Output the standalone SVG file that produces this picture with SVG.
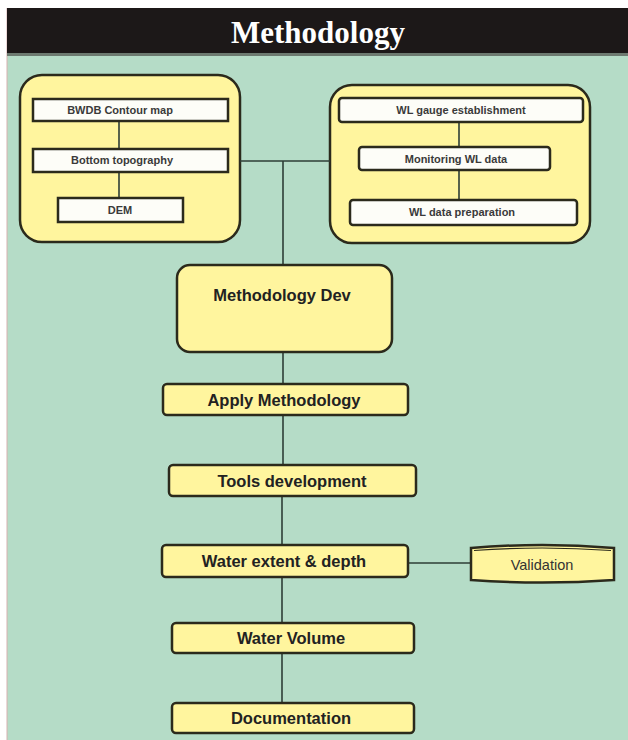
<svg xmlns="http://www.w3.org/2000/svg" width="628" height="740" viewBox="0 0 628 740">
<style>
.grp{fill:#fff59e;stroke:#2b2a1c;stroke-width:2.5}
.inner{fill:#fdfdf8;stroke:#2b2a1c;stroke-width:2.5}
.node{fill:#fff59e;stroke:#2b2a1c;stroke-width:2.5}
.conn{stroke:#2e3e36;stroke-width:1.6;fill:none}
.small{font-family:"Liberation Sans",Arial,sans-serif;font-size:11px;font-weight:bold;fill:#3a3a3a;text-anchor:middle}
.lbl{font-family:"Liberation Sans",Arial,sans-serif;font-size:16.5px;font-weight:bold;fill:#222;text-anchor:middle}
</style>
<rect x="0" y="0" width="628" height="740" fill="#ffffff"/>
<rect x="7" y="56" width="621" height="684" fill="#b5dcc7"/>
<line x1="7" y1="8" x2="7" y2="740" stroke="#d8b0b0" stroke-width="1"/>
<rect x="7" y="8" width="621" height="46" fill="#1c1818"/>
<rect x="7" y="53" width="621" height="3" fill="#6d7a70"/>
<text x="318" y="43" font-family="'Liberation Serif','Times New Roman',serif" font-size="31" font-weight="bold" fill="#ffffff" text-anchor="middle">Methodology</text>

<g id="group-left">
<rect class="grp" x="20" y="75" width="220" height="167" rx="22"/>
</g>
<g id="group-right">
<rect class="grp" x="330" y="85" width="260" height="158" rx="22"/>
</g>

<g id="connectors">
<line class="conn" x1="119" y1="121" x2="119" y2="149"/>
<line class="conn" x1="119" y1="172" x2="119" y2="198"/>
<line class="conn" x1="459" y1="122" x2="459" y2="147"/>
<line class="conn" x1="459" y1="170" x2="459" y2="200"/>
<line class="conn" x1="240" y1="161" x2="330" y2="161"/>
<line class="conn" x1="283" y1="161" x2="283" y2="265"/>
<line class="conn" x1="283" y1="352" x2="283" y2="384"/>
<line class="conn" x1="283" y1="415" x2="283" y2="465"/>
<line class="conn" x1="282" y1="496" x2="282" y2="545"/>
<line class="conn" x1="282" y1="577" x2="282" y2="623"/>
<line class="conn" x1="282" y1="653" x2="282" y2="703"/>
<line class="conn" x1="408" y1="563" x2="471" y2="563"/>
</g>

<g id="bwdb-contour">
<rect class="inner" x="33" y="99" width="195" height="22"/>
<text class="small" x="120" y="114">BWDB Contour map</text>
</g>
<g id="bottom-topography">
<rect class="inner" x="33" y="149" width="195" height="23"/>
<text class="small" x="122" y="164">Bottom topography</text>
</g>
<g id="dem">
<rect class="inner" x="58" y="198" width="125" height="24"/>
<text class="small" x="120" y="214">DEM</text>
</g>
<g id="wl-gauge">
<rect class="inner" x="339" y="98" width="244" height="24" rx="3"/>
<text class="small" x="461" y="114">WL gauge establishment</text>
</g>
<g id="monitoring-wl">
<rect class="inner" x="359" y="147" width="191" height="23" rx="3"/>
<text class="small" x="456" y="163">Monitoring WL data</text>
</g>
<g id="wl-data-prep">
<rect class="inner" x="350" y="200" width="227" height="25" rx="3"/>
<text class="small" x="462" y="216">WL data preparation</text>
</g>

<g id="methodology-dev">
<rect class="node" x="177" y="265" width="215" height="87" rx="13"/>
<text class="lbl" x="282" y="301">Methodology Dev</text>
</g>
<g id="apply-methodology">
<rect class="node" x="163" y="384" width="245" height="31" rx="4"/>
<text class="lbl" x="284" y="406" font-size="17.5">Apply Methodology</text>
</g>
<g id="tools-development">
<rect class="node" x="169" y="465" width="247" height="31" rx="4"/>
<text class="lbl" x="292" y="487">Tools development</text>
</g>
<g id="water-extent">
<rect class="node" x="162" y="545" width="246" height="32" rx="4"/>
<text class="lbl" x="284" y="567">Water extent &amp; depth</text>
</g>
<g id="validation">
<path class="node" d="M471,548 Q542,542 614,548 L614,580 Q542,585 471,580 Z"/>
<path d="M474,550.5 Q542,545.5 611,550.5" fill="none" stroke="#2b2a1c" stroke-width="1.2"/>
<text x="542" y="570" font-family="'Liberation Sans',Arial,sans-serif" font-size="14.5" fill="#333" text-anchor="middle">Validation</text>
</g>
<g id="water-volume">
<rect class="node" x="172" y="623" width="242" height="30" rx="4"/>
<text class="lbl" x="291" y="644">Water Volume</text>
</g>
<g id="documentation">
<rect class="node" x="172" y="703" width="242" height="30" rx="4"/>
<text class="lbl" x="291" y="724">Documentation</text>
</g>
</svg>
